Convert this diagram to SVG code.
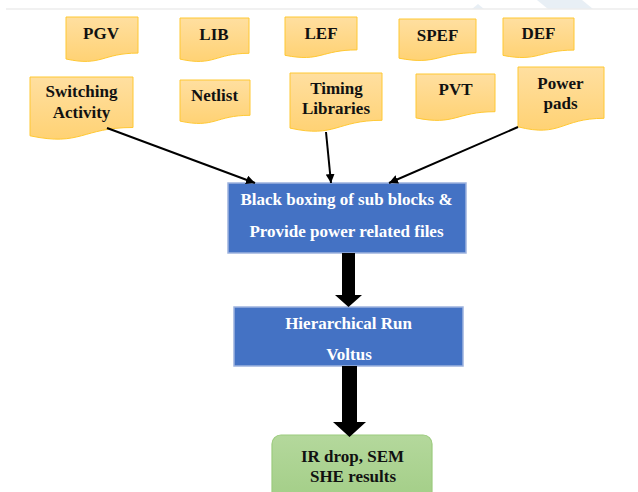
<svg xmlns="http://www.w3.org/2000/svg" width="638" height="492" viewBox="0 0 638 492">
<defs>
<linearGradient id="gold" x1="0" y1="0" x2="0" y2="1">
<stop offset="0" stop-color="#FFDFA0"/>
<stop offset="1" stop-color="#FFD274"/>
</linearGradient>
<linearGradient id="green" x1="0" y1="0" x2="0" y2="1">
<stop offset="0" stop-color="#B4D89C"/>
<stop offset="1" stop-color="#A3CE87"/>
</linearGradient>
<marker id="ah" viewBox="0 0 10 10" refX="10" refY="5" markerWidth="9" markerHeight="9" markerUnits="userSpaceOnUse" orient="auto">
<path d="M0,0 L10,5 L0,10 Z" fill="#000"/>
</marker>
<style>
.doc{fill:url(#gold);stroke:#FFC832;stroke-width:1}
.dt{font-family:"Liberation Serif","Times New Roman",serif;font-weight:bold;font-size:17px;fill:#111;text-anchor:middle}
.blue{fill:#4472C4;stroke:#9DB3DE;stroke-width:1.5}
.wt{font-family:"Liberation Serif","Times New Roman",serif;font-weight:bold;font-size:17px;fill:#fff;text-anchor:middle}
.conn{stroke:#000;stroke-width:2;fill:none;marker-end:url(#ah)}
.thick{fill:#000}
</style>
</defs>
<rect width="638" height="492" fill="#fff"/>
<g id="background">
<polygon points="472,9 478,4 484,9" fill="#D9E4EE"/>
<polygon points="537,0 582,0 593,9 548,9" fill="#D9E4EE"/>
<rect x="0" y="0" width="638" height="9" fill="#fff" opacity="0.4"/>
<line x1="6" y1="9" x2="638" y2="9" stroke="#EDEDED" stroke-width="1.5"/>
</g>
<g id="pgv"><path class="doc" d="M66,17 H138 V53.1 C102,53.1 102,66.8 66,59 Z"/><text class="dt" x="101" y="39">PGV</text></g>
<g id="lib"><path class="doc" d="M180,18 H249 V53.3 C214.5,53.3 214.5,66.7 180,59.1 Z"/><text class="dt" x="214" y="40">LIB</text></g>
<g id="lef"><path class="doc" d="M285,17 H357 V49.9 C321,49.9 321,62.4 285,55.3 Z"/><text class="dt" x="321" y="39">LEF</text></g>
<g id="spef"><path class="doc" d="M399,19 H476 V52.7 C437.5,52.7 437.5,65.5 399,58.2 Z"/><text class="dt" x="437.5" y="41">SPEF</text></g>
<g id="def"><path class="doc" d="M503,18 H574 V50.1 C538.5,50.1 538.5,62.3 503,55.4 Z"/><text class="dt" x="538.5" y="39">DEF</text></g>
<g id="switching"><path class="doc" d="M30,77 H133 V127.5 C81.5,127.5 81.5,146.7 30,135.8 Z"/><text class="dt" x="81.5" y="97">Switching</text><text class="dt" x="81.5" y="118">Activity</text></g>
<g id="netlist"><path class="doc" d="M180,80 H250 V115.3 C215,115.3 215,128.7 180,121.1 Z"/><text class="dt" x="214.5" y="101">Netlist</text></g>
<g id="timing"><path class="doc" d="M290,73 H382 V120.3 C336,120.3 336,138.3 290,128.1 Z"/><text class="dt" x="336.5" y="94">Timing</text><text class="dt" x="336" y="114">Libraries</text></g>
<g id="pvt"><path class="doc" d="M416,74 H495 V111.7 C455.5,111.7 455.5,126 416,117.9 Z"/><text class="dt" x="455.5" y="95">PVT</text></g>
<g id="powerpads"><path class="doc" d="M518,67 H604 V118.3 C561,118.3 561,137.8 518,126.8 Z"/><text class="dt" x="560.5" y="89">Power</text><text class="dt" x="560.5" y="109">pads</text></g>
<g id="blackbox"><rect class="blue" x="228" y="183" width="238" height="70"/><text class="wt" x="346.5" y="205">Black boxing of sub blocks &amp;</text><text class="wt" x="346.5" y="237">Provide power related files</text></g>
<g id="hier"><rect class="blue" x="234" y="307" width="229" height="59"/><text class="wt" x="348.5" y="329">Hierarchical Run</text><text class="wt" x="349" y="360">Voltus</text></g>
<g id="results"><rect x="272" y="435" width="160" height="66" rx="9" ry="9" fill="url(#green)" stroke="#9CCB7E" stroke-width="1.2"/><text class="dt" x="352.5" y="462">IR drop, SEM</text><text class="dt" x="353" y="482">SHE results</text></g>
<g id="connectors">
<line class="conn" x1="107" y1="128" x2="255" y2="183"/>
<line class="conn" x1="326" y1="132" x2="331" y2="183"/>
<line class="conn" x1="518" y1="127" x2="389" y2="183"/>
<polygon class="thick" points="342,253 355,253 355,295 362,295 348.5,307 335,295 342,295"/>
<polygon class="thick" points="342,366 357,366 357,422 366,422 349.5,437 333,422 342,422"/>
</g>
</svg>
